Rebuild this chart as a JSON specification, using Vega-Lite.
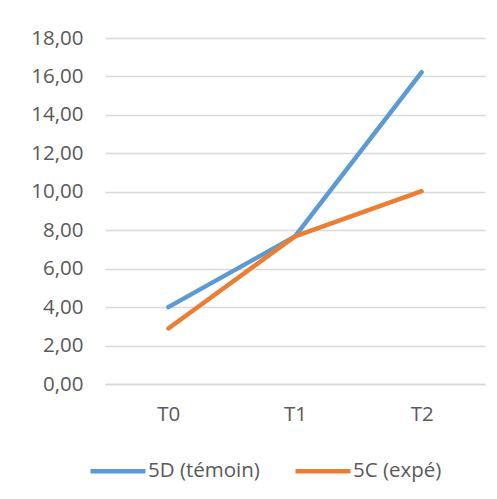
{
  "$schema": "https://vega.github.io/schema/vega-lite/v6.json",
  "width": 380,
  "height": 346,
  "autosize": {"type": "none"},
  "padding": {"left": 105, "top": 38, "right": 12, "bottom": 115},
  "background": "white",
  "config": {
    "view": {"stroke": null},
    "font": "Open Sans"
  },
  "data": {
    "values": [
      {"temps": "T0", "serie": "5D (témoin)", "valeur": 4.0},
      {"temps": "T1", "serie": "5D (témoin)", "valeur": 7.68},
      {"temps": "T2", "serie": "5D (témoin)", "valeur": 16.22},
      {"temps": "T0", "serie": "5C (expé)", "valeur": 2.89},
      {"temps": "T1", "serie": "5C (expé)", "valeur": 7.68},
      {"temps": "T2", "serie": "5C (expé)", "valeur": 10.03}
    ]
  },
  "mark": {"type": "line", "strokeWidth": 4.5, "strokeCap": "round", "strokeJoin": "round"},
  "encoding": {
    "x": {
      "field": "temps",
      "type": "ordinal",
      "scale": {"type": "point", "padding": 0.5},
      "axis": {
        "title": null,
        "labelAngle": 0,
        "labelFontSize": 20.5,
        "labelColor": "#595959",
        "labelPadding": 20,
        "ticks": false,
        "domainColor": "#D9D9D9",
        "domainWidth": 1.5,
        "grid": false
      }
    },
    "y": {
      "field": "valeur",
      "type": "quantitative",
      "scale": {"domain": [0, 18], "nice": false, "zero": true},
      "axis": {
        "title": null,
        "values": [0, 2, 4, 6, 8, 10, 12, 14, 16, 18],
        "labelExpr": "replace(format(datum.value, '.2f'), '.', ',')",
        "labelFontSize": 20.5,
        "labelColor": "#595959",
        "labelPadding": 22,
        "ticks": false,
        "domain": false,
        "gridColor": "#D9D9D9",
        "gridWidth": 1.5
      }
    },
    "color": {
      "field": "serie",
      "type": "nominal",
      "sort": ["5D (témoin)", "5C (expé)"],
      "scale": {"domain": ["5D (témoin)", "5C (expé)"], "range": ["#5B9BD5", "#ED7D31"]},
      "legend": {
        "title": null,
        "orient": "none",
        "direction": "horizontal",
        "legendX": -17,
        "legendY": 403,
        "symbolType": "stroke",
        "symbolSize": 3025,
        "symbolStrokeWidth": 4.5,
        "labelFontSize": 20.5,
        "labelColor": "#595959",
        "labelOffset": 0,
        "columnPadding": 26
      }
    }
  }
}
